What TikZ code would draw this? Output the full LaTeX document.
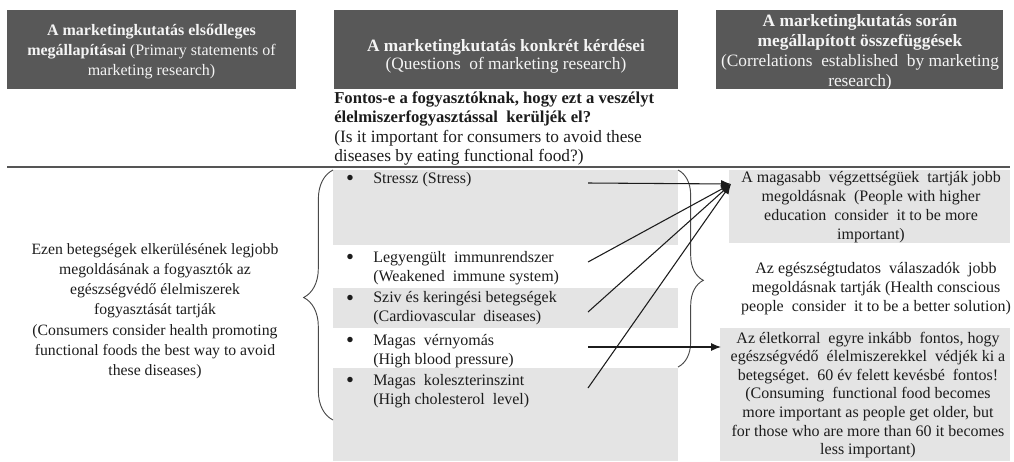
\documentclass[tikz,border=0pt]{standalone}
\usepackage{fontspec}
\setmainfont{Liberation Serif}
\usetikzlibrary{decorations.pathreplacing,arrows.meta}
\definecolor{hdr}{HTML}{585858}
\definecolor{hdrtext}{HTML}{F4F4F4}
\definecolor{boxgray}{HTML}{E4E4E4}
\definecolor{ink}{HTML}{1C1C1C}
\definecolor{rule}{HTML}{555555}
\tikzset{
  hdrbox/.style={draw=none,fill=hdr,inner sep=0pt},
  hdrtxt/.style={text=hdrtext,align=center,inner sep=0pt,font=\fontsize{12}{15}\selectfont},
  graybox/.style={draw=none,fill=boxgray,inner sep=0pt},
  bodytxt/.style={text=ink,inner sep=0pt,font=\fontsize{12}{14.2}\selectfont},
  bul/.style={text=ink,inner sep=0pt,font=\fontsize{17}{17}\selectfont},
  conn/.style={draw=ink,line width=0.8pt,-{Latex[length=7.5pt,width=6pt]}},
  bracestyle/.style={draw=ink!80,line width=0.7pt,decorate},
}
\begin{document}
\begin{tikzpicture}[x=0.75pt,y=-0.75pt]
\useasboundingbox (0,0) rectangle (1014,461);
% header boxes
\path[hdrbox] (7,10) rectangle (296,89);
\path[hdrbox] (334,10) rectangle (678,89);
\path[hdrbox] (716,10) rectangle (1003,89);
\node[hdrtxt] (h1) at (151.5,52) {\textbf{A marketingkutatás elsődleges}\\\textbf{megállapításai} (Primary statements of\\marketing research)};
\node[hdrtxt,font=\fontsize{13}{14}\selectfont] (h2) at (506,56.5) {\textbf{A marketingkutatás konkrét kérdései}\\(Questions\ \ of marketing research)};
\node[hdrtxt,font=\fontsize{13}{15}\selectfont] (h3) at (860,52) {\textbf{A marketingkutatás során}\\\textbf{megállapított összefüggések}\\(Correlations\ \ established\ \ by marketing\\research)};
% question
\node[bodytxt,align=left,anchor=west,font=\fontsize{12.5}{14.5}\selectfont] (q) at (334,128.5) {\textbf{Fontos-e a fogyasztóknak, hogy ezt a veszélyt}\\\textbf{élelmiszerfogyasztással\ \ kerüljék el?}\\{\fontsize{13}{14.5}\selectfont (Is it important\ for consumers\ to avoid these}\\{\fontsize{13}{14.5}\selectfont diseases\ by eating functional\ food?)}};
% rule
\draw[rule,line width=1.6pt] (7,167) -- (1010,167);
% middle gray boxes
\path[graybox] (333,170) rectangle (678,245);
\path[graybox] (333,288) rectangle (678,328);
\path[graybox] (333,368) rectangle (678,461);
% right boxes
\path[graybox] (729,170) rectangle (1010,243);
\path[graybox] (720,328) rectangle (1010,461);
% left text
\node[bodytxt,align=center,font=\fontsize{11.8}{15.2}\selectfont] (lt) at (155,311) {Ezen betegségek\ elkerülésének\ legjobb\\megoldásának\ a fogyasztók az\\egészségvédő\ élelmiszerek\\fogyasztását\ tartják\\(Consumers\ consider health promoting\\functional\ foods the best way to avoid\\these\ diseases)};
% items
\node[bul] (b1) at (350,180) {\textbullet};
\node[bul] (b2) at (350,259) {\textbullet};
\node[bul] (b3) at (350,300) {\textbullet};
\node[bul] (b4) at (350,342) {\textbullet};
\node[bul] (b5) at (350,382) {\textbullet};
\node[bodytxt,anchor=west] (i1) at (373,180) {Stressz (Stress)};
\node[bodytxt,anchor=west,align=left] (i2) at (373,268.5) {Legyengült\ \ immunrendszer\\(Weakened\ \ immune system)};
\node[bodytxt,anchor=west,align=left] (i3) at (373,308.5) {Sziv és keringési betegségek\\(Cardiovascular\ \ diseases)};
\node[bodytxt,anchor=west,align=left] (i4) at (373,351) {Magas\ \ vérnyomás\\(High blood pressure)};
\node[bodytxt,anchor=west,align=left] (i5) at (373,391) {Magas\ \ koleszterinszint\\(High cholesterol\ \ level)};
% right texts
\node[bodytxt,align=center] (r1) at (871,207.5) {A magasabb\ \ végzettségüek\ \ tartják jobb\\megoldásnak\ \ (People with higher\\education\ \ consider\ \ it to be more\\important)};
\node[bodytxt,align=center] (r2) at (876,288.5) {Az egészségtudatos\ \ válaszadók\ \ jobb\\megoldásnak tartják (Health conscious\\people\ \ consider\ \ it to be a better solution)};
\node[bodytxt,align=center,font=\fontsize{12}{13.9}\selectfont] (r3) at (868,395) {Az életkorral\ \ egyre inkább\ \ fontos, hogy\\egészségvédő\ \ élelmiszerekkel\ \ védjék ki a\\betegséget.\ \ 60 év felett kevésbé\ \ fontos!\\(Consuming\ \ functional food becomes\\more important as people get older, but\\for those who are more than 60 it becomes\\less important)};
% braces
\draw[bracestyle,decoration={brace,amplitude=22pt,aspect=0.49}] (333,420) -- (333,170);
\draw[bracestyle,decoration={brace,amplitude=19pt,aspect=0.56}] (678,170) -- (678,367);
% connectors
\coordinate (s1) at (588,183);
\coordinate (s2) at (588,262);
\coordinate (s3) at (588,312);
\coordinate (s4) at (588,347);
\coordinate (s5) at (588,388);
\coordinate (t1) at (731,184);
\coordinate (t3) at (721,347);
\draw[conn] (s1) -- (t1);
\draw[conn] (s2) -- (t1);
\draw[conn] (s3) -- (t1);
\draw[conn] (s5) -- (t1);
\draw[conn] (s4) -- (t3);
\end{tikzpicture}
\end{document}
